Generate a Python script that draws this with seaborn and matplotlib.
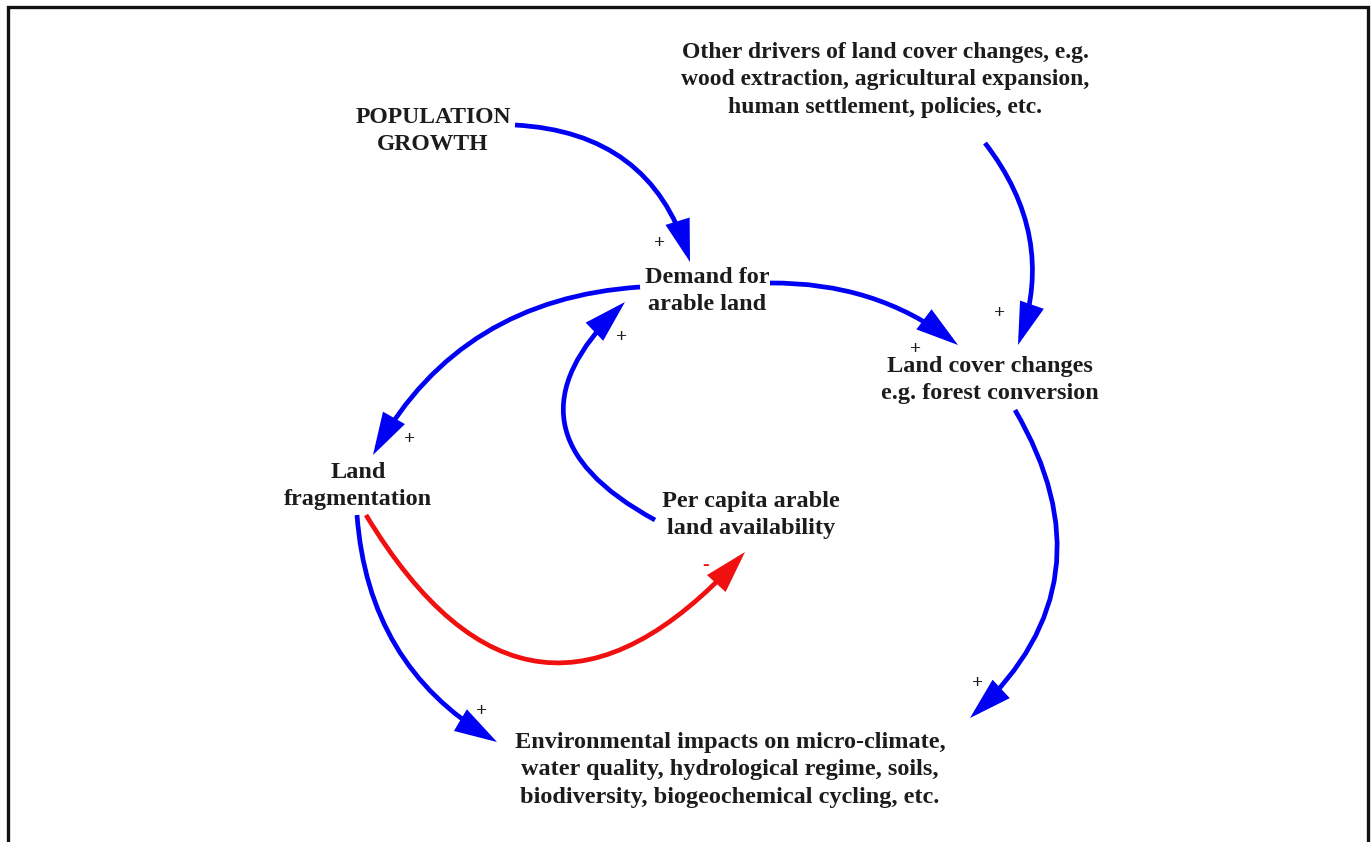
import matplotlib
matplotlib.use("Agg")
import matplotlib.pyplot as plt
import seaborn as sns

sns.set_theme(style="white")
plt.rcParams['font.family'] = ['Liberation Serif', 'DejaVu Serif']

# node labels and their centres (pixel frame of the original diagram)
node_names = ["pop", "drivers", "demand", "landcover", "frag", "percap", "env"]
node_labels = [
    "POPULATION\nGROWTH",
    "Other drivers of land cover changes, e.g.\nwood extraction, agricultural expansion,\nhuman settlement, policies, etc.",
    "Demand for\narable land",
    "Land cover changes\ne.g. forest conversion",
    "Land\nfragmentation",
    "Per capita arable\nland availability",
    "Environmental impacts on micro-climate,\nwater quality, hydrological regime, soils,\nbiodiversity, biogeochemical cycling, etc.",
]
node_x = [433, 885, 707, 990, 358, 751, 730]
node_y = [131, 80, 291, 380, 486, 515, 770]
node_size = [17, 17, 17.5, 17.5, 17.5, 17.5, 17.5]

# causal links: start point, end point, curvature, polarity
link_x0 = [515, 985, 770, 640, 655, 366, 357, 1015]
link_y0 = [125, 143, 283, 287, 520, 515, 515, 410]
link_x1 = [690, 1018, 958, 373, 625, 745, 497, 970]
link_y1 = [262, 345, 345, 455, 302, 552, 742, 718]
link_rad = [-0.35, -0.27, -0.17, 0.27, -0.68, 0.67, 0.26, -0.40]
link_sign = ["+", "+", "+", "+", "+", "-", "+", "+"]
sign_x = [660, 1000, 916, 410, 622, 706, 482, 978]
sign_y = [243, 313, 349, 440, 338, 565, 712, 683]

BLUE = "#0000f5"
RED = "#f01010"
INK = "#1c1c1c"

fig = plt.figure(figsize=(13.72, 8.42), dpi=100)
ax = fig.add_axes([0, 0, 1, 1])
ax.set_xlim(0, 1372)
ax.set_ylim(842, 0)
ax.axis("off")

# frame
ax.plot([8, 8, 1368, 1368], [850, 7, 7, 850], color="#111111", lw=2.4,
        solid_joinstyle="miter")

for lab, x, y, fs in zip(node_labels, node_x, node_y, node_size):
    ax.text(x, y, lab, ha="center", va="center", fontsize=fs,
            fontweight="bold", color=INK, linespacing=1.42)

for i in range(len(link_x0)):
    col = RED if link_sign[i] == "-" else BLUE
    ax.annotate("", xy=(link_x1[i], link_y1[i]), xytext=(link_x0[i], link_y0[i]),
                arrowprops=dict(arrowstyle="-|>,head_length=1.15,head_width=0.34",
                                mutation_scale=20, color=col, lw=3.4,
                                shrinkA=0, shrinkB=0, joinstyle="miter",
                                capstyle="butt",
                                connectionstyle=f"arc3,rad={link_rad[i]}"))
    ax.text(sign_x[i], sign_y[i], link_sign[i], ha="center", va="center",
            fontsize=14, fontweight="bold",
            color=col if link_sign[i] == "-" else INK)

fig.savefig("out.png", dpi=100)
